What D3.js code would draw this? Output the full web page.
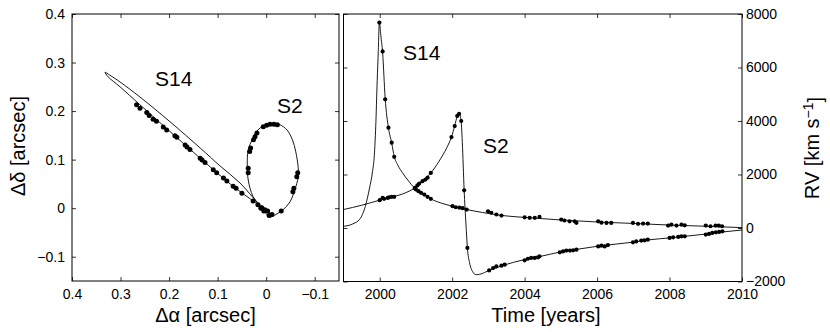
<!DOCTYPE html>
<html><head><meta charset="utf-8">
<script src="https://cdn.jsdelivr.net/npm/d3@7"></script>
<style>
html,body{margin:0;padding:0;background:#fff;}
svg{display:block;font-family:"Liberation Sans",Arial,Helvetica,sans-serif;}
</style></head>
<body><svg id="chart" width="830" height="332"></svg>
<script>
// ---------- DATA ----------
const alphaTicks = [0.4, 0.3, 0.2, 0.1, 0, -0.1];
const deltaTicks = [-0.1, 0, 0.1, 0.2, 0.3, 0.4];
const yearTicks = [2000, 2002, 2004, 2006, 2008, 2010];
const rvTicks = [-2000, 0, 2000, 4000, 6000, 8000];

// sky-plane orbits [dRA, dDec] in arcsec (closed loops)
const s14SkyOrbit = [[-0.004,-0.007],[0.017,0.011],[0.054,0.052],[0.095,0.087],[0.136,0.124],[0.198,0.178],[0.260,0.229],[0.301,0.260],[0.322,0.274],[0.332,0.280],[0.326,0.271],[0.301,0.250],[0.260,0.213],[0.188,0.149],[0.136,0.103],[0.068,0.045],[0.023,0.012],[0.003,-0.004],[-0.008,-0.010]];
const s2SkyOrbit = [[-0.008,-0.018],[0.006,-0.004],[0.027,0.024],[0.037,0.058],[0.039,0.089],[0.037,0.120],[0.029,0.141],[0.019,0.159],[0.005,0.170],[-0.012,0.175],[-0.028,0.172],[-0.043,0.161],[-0.054,0.141],[-0.061,0.116],[-0.066,0.083],[-0.066,0.064],[-0.059,0.038],[-0.049,0.013],[-0.035,-0.003],[-0.020,-0.013]];
const s14SkyObs = [[0.267,0.213],[0.260,0.206],[0.246,0.197],[0.241,0.191],[0.233,0.183],[0.226,0.179],[0.212,0.167],[0.205,0.161],[0.188,0.149],[0.184,0.146],[0.167,0.130],[0.163,0.126],[0.157,0.121],[0.136,0.103],[0.132,0.099],[0.126,0.094],[0.109,0.079],[0.102,0.073],[0.088,0.062],[0.081,0.056],[0.068,0.045],[0.062,0.041],[0.050,0.031],[0.027,0.015],[0.017,0.007],[0.009,0.001],[0.003,-0.003],[-0.003,-0.006]];
const s2SkyObs = [[0.037,0.082],[0.037,0.073],[0.034,0.117],[0.032,0.124],[0.026,0.141],[0.023,0.147],[0.019,0.155],[0.006,0.168],[-0.001,0.171],[-0.008,0.173],[-0.016,0.173],[-0.023,0.172],[-0.065,0.073],[-0.063,0.065],[-0.057,0.041],[-0.055,0.034],[-0.031,-0.006],[-0.012,-0.013],[-0.006,-0.015],[0.005,-0.006],[0.011,0.000]];

// radial velocity curves [year, km/s]
const s14RVModel = [[1999.0,60],[1999.25,150],[1999.45,330],[1999.6,800],[1999.72,1500],[1999.8,2100],[1999.85,2700],[1999.89,3800],[1999.93,5500],[1999.96,6600],[1999.99,7700],[2000.03,7200],[2000.08,6550],[2000.15,4850],[2000.24,3750],[2000.33,3180],[2000.40,2680],[2000.5,2350],[2000.63,2060],[2000.8,1750],[2000.95,1510],[2001.18,1310],[2001.41,1090],[2001.7,930],[2002.01,815],[2002.38,695],[2002.84,580],[2003.36,470],[2004.0,395],[2005.0,300],[2006.0,225],[2007.0,170],[2008.0,110],[2009.0,65],[2010.0,15]];
const s2RVModel = [[1999.0,690],[1999.5,850],[2000.0,1040],[2000.35,1160],[2000.72,1320],[2000.95,1480],[2001.18,1740],[2001.41,2060],[2001.64,2500],[2001.85,3000],[2001.98,3400],[2002.07,3820],[2002.14,4180],[2002.19,4280],[2002.24,4080],[2002.28,3200],[2002.33,1420],[2002.38,150],[2002.42,-750],[2002.48,-1300],[2002.56,-1620],[2002.66,-1745],[2002.76,-1730],[2003.03,-1580],[2003.40,-1400],[2004.0,-1180],[2004.41,-1070],[2005.01,-890],[2005.43,-800],[2006.07,-670],[2006.99,-530],[2007.45,-440],[2008.0,-370],[2008.46,-305],[2009.02,-225],[2009.46,-150],[2010.0,-75]];
const s14RVObs = [[1999.99,7680],[2000.08,6600],[2000.15,4810],[2000.24,3750],[2000.33,3190],[2000.40,2660],[2000.97,1490],[2001.0,1440],[2001.07,1375],[2001.14,1315],[2001.23,1250],[2001.32,1165],[2001.41,1090],[2002.01,815],[2002.10,775],[2002.20,760],[2002.29,740],[2002.40,690],[2002.99,625],[2003.08,570],[2003.22,505],[2003.36,465],[2004.0,400],[2004.14,380],[2004.28,380],[2004.41,415],[2005.01,315],[2005.1,280],[2005.24,250],[2005.38,250],[2005.43,195],[2006.03,250],[2006.12,200],[2006.26,190],[2006.39,190],[2006.99,190],[2007.13,155],[2007.27,165],[2007.40,165],[2007.96,90],[2008.05,125],[2008.19,90],[2008.33,125],[2008.42,100],[2009.0,90],[2009.13,65],[2009.27,90],[2009.36,90],[2009.45,65]];
const s2RVObs = [[2000.0,1040],[2000.08,1125],[2000.12,1090],[2000.22,1125],[2000.26,1150],[2000.33,1165],[2000.40,1165],[2000.98,1500],[2001.04,1590],[2001.09,1660],[2001.18,1750],[2001.26,1810],[2001.32,1880],[2001.41,2060],[2001.98,3400],[2002.07,3810],[2002.14,4190],[2002.19,4270],[2002.25,4000],[2002.33,1410],[2002.42,-745],[2003.02,-1585],[2003.13,-1495],[2003.22,-1435],[2003.36,-1410],[2003.45,-1370],[2004.0,-1210],[2004.09,-1150],[2004.18,-1120],[2004.28,-1120],[2004.37,-1095],[2004.41,-1060],[2004.97,-910],[2005.06,-875],[2005.15,-845],[2005.25,-845],[2005.34,-835],[2005.43,-810],[2006.03,-690],[2006.12,-660],[2006.21,-690],[2006.30,-640],[2006.99,-535],[2007.08,-500],[2007.22,-470],[2007.31,-460],[2007.40,-435],[2008.0,-370],[2008.10,-350],[2008.24,-335],[2008.33,-310],[2008.42,-310],[2009.0,-245],[2009.09,-220],[2009.18,-185],[2009.28,-160],[2009.37,-145],[2009.46,-125]];

// ---------- LAYOUT ----------
const svg = d3.select("#chart");
const L = {x0: 72, x1: 339, y0: 14, y1: 281};
const R = {x0: 343.5, x1: 742, y0: 14, y1: 281.5};
const tickFont = 14, titleFont = 20, tickLen = 4;

const xA = d3.scaleLinear().domain([0.4, -0.15]).range([L.x0, L.x1]);
const yD = d3.scaleLinear().domain([-0.15, 0.4]).range([L.y1, L.y0]);
const xT = d3.scaleLinear().domain([1999, 2010]).range([R.x0, R.x1]);
const yV = d3.scaleLinear().domain([-2000, 8000]).range([R.y1, R.y0]);

const fmtA = d => d === 0 ? "0" : d3.format(".1f")(d);

function styleAxis(g, showText) {
  g.select(".domain").remove();
  g.selectAll(".tick line").attr("stroke", "#000").attr("stroke-width", 0.8);
  g.selectAll(".tick text").attr("fill", "#000").style("font-size", tickFont + "px")
    .style("font-family", '"Liberation Sans",Arial,sans-serif');
  if (!showText) g.selectAll(".tick text").remove();
}

// ---- Left panel ----
svg.append("g").attr("transform", `translate(0,${L.y1})`)
  .call(d3.axisBottom(xA).tickValues(alphaTicks).tickFormat(fmtA).tickSize(-tickLen).tickPadding(8))
  .call(g => styleAxis(g, true));
svg.append("g").attr("transform", `translate(0,${L.y0})`)
  .call(d3.axisTop(xA).tickValues(alphaTicks).tickSize(-tickLen))
  .call(g => styleAxis(g, false));
svg.append("g").attr("transform", `translate(${L.x0},0)`)
  .call(d3.axisLeft(yD).tickValues(deltaTicks).tickFormat(fmtA).tickSize(-tickLen).tickPadding(7))
  .call(g => styleAxis(g, true));
svg.append("g").attr("transform", `translate(${L.x1},0)`)
  .call(d3.axisRight(yD).tickValues(deltaTicks).tickSize(-tickLen))
  .call(g => styleAxis(g, false));
svg.append("rect").attr("x", L.x0).attr("y", L.y0).attr("width", L.x1 - L.x0).attr("height", L.y1 - L.y0)
  .attr("fill", "none").attr("stroke", "#000").attr("stroke-width", 1);

const skyLine = d3.line().x(d => xA(d[0])).y(d => yD(d[1])).curve(d3.curveCatmullRomClosed.alpha(0.5));
const gL = svg.append("g");
[s14SkyOrbit, s2SkyOrbit].forEach(o => gL.append("path").attr("d", skyLine(o))
  .attr("fill", "none").attr("stroke", "#000").attr("stroke-width", 0.9));
[s14SkyObs, s2SkyObs].forEach(o => gL.selectAll(null).data(o).enter().append("circle")
  .attr("cx", d => xA(d[0])).attr("cy", d => yD(d[1])).attr("r", 2.5).attr("fill", "#000"));

// ---- Right panel ----
svg.append("g").attr("transform", `translate(0,${R.y1})`)
  .call(d3.axisBottom(xT).tickValues(yearTicks).tickFormat(d3.format("d")).tickSize(-tickLen).tickPadding(8))
  .call(g => styleAxis(g, true));
svg.append("g").attr("transform", `translate(0,${R.y0})`)
  .call(d3.axisTop(xT).tickValues(yearTicks).tickSize(-tickLen))
  .call(g => styleAxis(g, false));
svg.append("g").attr("transform", `translate(${R.x1},0)`)
  .call(d3.axisRight(yV).tickValues(rvTicks).tickFormat(d3.format("d")).tickSize(-tickLen).tickPadding(4))
  .call(g => styleAxis(g, true));
svg.append("g").attr("transform", `translate(${R.x0},0)`)
  .call(d3.axisLeft(yV).tickValues(rvTicks).tickSize(-tickLen))
  .call(g => styleAxis(g, false));
svg.append("rect").attr("x", R.x0).attr("y", R.y0).attr("width", R.x1 - R.x0).attr("height", R.y1 - R.y0)
  .attr("fill", "none").attr("stroke", "#000").attr("stroke-width", 1);

const rvLine = d3.line().x(d => xT(d[0])).y(d => yV(d[1])).curve(d3.curveMonotoneX);
const gR = svg.append("g");
[s14RVModel, s2RVModel].forEach(o => gR.append("path").attr("d", rvLine(o))
  .attr("fill", "none").attr("stroke", "#000").attr("stroke-width", 0.9));
[s14RVObs, s2RVObs].forEach(o => gR.selectAll(null).data(o).enter().append("circle")
  .attr("cx", d => xT(d[0])).attr("cy", d => yV(d[1])).attr("r", 2.1).attr("fill", "#000"));

// ---- Titles & labels ----
const txt = (x, y, s, size, anchor) => svg.append("text").attr("x", x).attr("y", y)
  .attr("text-anchor", anchor || "middle").style("font-size", size + "px").attr("fill", "#000").text(s);

txt((L.x0 + L.x1) / 2, 322, "Δα [arcsec]", titleFont);
txt(546, 322, "Time [years]", titleFont);
svg.append("text").attr("transform", "translate(25,146) rotate(-90)").attr("text-anchor", "middle")
  .style("font-size", titleFont + "px").text("Δδ [arcsec]");
const rvTitle = svg.append("text").attr("transform", "translate(819,148) rotate(-90)").attr("text-anchor", "middle")
  .style("font-size", titleFont + "px");
rvTitle.append("tspan").text("RV [km s");
rvTitle.append("tspan").attr("dy", "-0.45em").style("font-size", "14px").text("−1");
rvTitle.append("tspan").attr("dy", "0.45em").text("]");

txt(155, 86, "S14", 21, "start");
txt(277, 113, "S2", 21, "start");
txt(403, 60, "S14", 21, "start");
txt(483, 153, "S2", 21, "start");
</script></body></html>
